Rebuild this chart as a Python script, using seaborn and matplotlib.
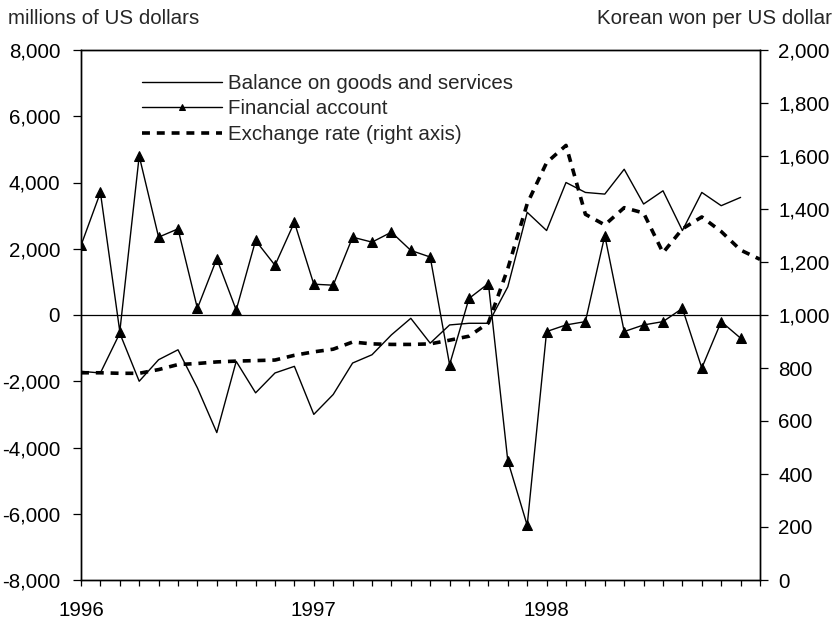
import numpy as np
import pandas as pd
import matplotlib
matplotlib.use("Agg")
import matplotlib.pyplot as plt
from matplotlib.ticker import FuncFormatter, MultipleLocator
import seaborn as sns

# monthly, Jan 1996 onward
months = np.arange(35)
months_fx = np.arange(36)
year_labels = ["1996", "1997", "1998"]

balance = [-1700, -1750, -550, -2000, -1350, -1050, -2200, -3550, -1400, -2350,
           -1750, -1550, -3000, -2400, -1450, -1200, -600, -100, -850, -300,
           -250, -250, 850, 3100, 2550, 4000, 3700, 3650, 4400, 3350,
           3750, 2550, 3700, 3300, 3550]
financial = [2100, 3700, -500, 4800, 2350, 2600, 200, 1700, 150, 2250,
             1500, 2800, 930, 900, 2350, 2200, 2500, 1950, 1750, -1500,
             500, 950, -4400, -6350, -500, -300, -200, 2400, -500, -300,
             -200, 200, -1600, -200, -700]
exchange = [782, 782, 780, 780, 794, 813, 817, 823, 826, 828, 830, 848,
            861, 871, 898, 891, 889, 889, 891, 905, 920, 970, 1175, 1420,
            1575, 1640, 1380, 1340, 1405, 1385, 1235, 1325, 1370, 1315, 1245, 1210]

df = pd.DataFrame({"month": months, "balance": balance, "financial": financial})
df_fx = pd.DataFrame({"month": months_fx, "exchange": exchange})

sns.set_style("ticks")
plt.rcParams["font.family"] = ["Liberation Sans", "DejaVu Sans"]
fs = 14.8
plt.rcParams["font.size"] = fs

fig = plt.figure(figsize=(8.35, 6.21), dpi=100)
ax = fig.add_axes([81 / 835, 1 - 580 / 621, (760 - 81) / 835, 530 / 621])
ax2 = ax.twinx()

sns.lineplot(data=df, x="month", y="balance", ax=ax, color="black", lw=1.0,
             label="Balance on goods and services")
sns.lineplot(data=df, x="month", y="financial", ax=ax, color="black", lw=1.0,
             marker="^", markersize=7, markeredgecolor="black",
             label="Financial account")
sns.lineplot(data=df_fx, x="month", y="exchange", ax=ax2, color="black", lw=2.6,
             label="Exchange rate (right axis)")
ax2.lines[0].set_dashes((2.2, 1.9))

ax.axhline(0, color="black", lw=0.9)

# axes
ax.set_xlim(0, 35)
ax.set_ylim(-8000, 8000)
ax2.set_ylim(0, 2000)
ax.yaxis.set_major_locator(MultipleLocator(2000))
ax2.yaxis.set_major_locator(MultipleLocator(200))
fmt = FuncFormatter(lambda v, p: f"{v:,.0f}")
ax.yaxis.set_major_formatter(fmt)
ax2.yaxis.set_major_formatter(fmt)
ax.set_xticks(np.arange(36))
ax.set_xticklabels([year_labels[i // 12] if i % 12 == 0 else "" for i in range(36)])
ax.set_xlabel("")
ax.set_ylabel("")
ax2.set_ylabel("")

for a in (ax, ax2):
    for s in a.spines.values():
        s.set_visible(True)
        s.set_color("black")
        s.set_linewidth(1.0)
ax.tick_params(axis="y", length=6, width=0.9, pad=9, labelsize=fs, colors="black")
ax2.tick_params(axis="y", length=6, width=0.9, pad=7, labelsize=fs, colors="black")
ax.tick_params(axis="x", length=4, width=0.9, pad=11, labelsize=fs, colors="black")

# legend
h1, l1 = ax.get_legend_handles_labels()
h2, l2 = ax2.get_legend_handles_labels()
if ax.get_legend():
    ax.get_legend().remove()
ax2.legend(h1 + h2, l1 + l2, loc="upper left", bbox_to_anchor=(0.062, 0.99),
           frameon=False, handlelength=3.9, handletextpad=0.3,
           labelspacing=0.32, fontsize=fs, markerscale=0.6)

fig.text(0.01, 0.971, "millions of US dollars", fontsize=fs, va="center", ha="left")
fig.text(0.997, 0.971, "Korean won per US dollar", fontsize=fs, va="center", ha="right")

fig.savefig("out.png", dpi=100, facecolor="white")
